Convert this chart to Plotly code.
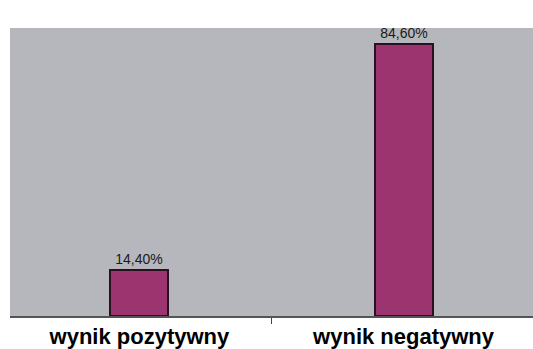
import plotly.graph_objects as go

categories = ["wynik pozytywny", "wynik negatywny"]
values = [14.4, 84.6]
labels = ["14,40%", "84,60%"]

fig = go.Figure()
fig.add_trace(go.Bar(
    x=categories,
    y=values,
    text=labels,
    textposition="outside",
    cliponaxis=False,
    width=0.22,
    marker=dict(color="#9c356f", line=dict(color="#2a1020", width=2)),
    textfont=dict(family="Liberation Sans, Arial, sans-serif", size=14, color="#1a1a1a"),
))

fig.update_layout(
    width=533,
    height=349,
    margin=dict(l=10, r=0, t=28, b=31),
    paper_bgcolor="white",
    plot_bgcolor="#b5b7bc",
    showlegend=False,
    bargap=0,
    xaxis=dict(
        type="category",
        range=[-0.49, 1.49],
        tickson="boundaries",
        ticks="outside",
        ticklen=6,
        tickcolor="#444444",
        showline=True,
        linecolor="#555555",
        linewidth=2,
        showgrid=False,
        tickfont=dict(family="Liberation Sans, Arial, sans-serif", size=22, color="black", weight="bold"),
    ),
    yaxis=dict(
        range=[0, 89.5],
        showticklabels=False,
        showgrid=False,
        zeroline=False,
        showline=False,
        ticks="",
    ),
)

fig.write_html("out.html")
